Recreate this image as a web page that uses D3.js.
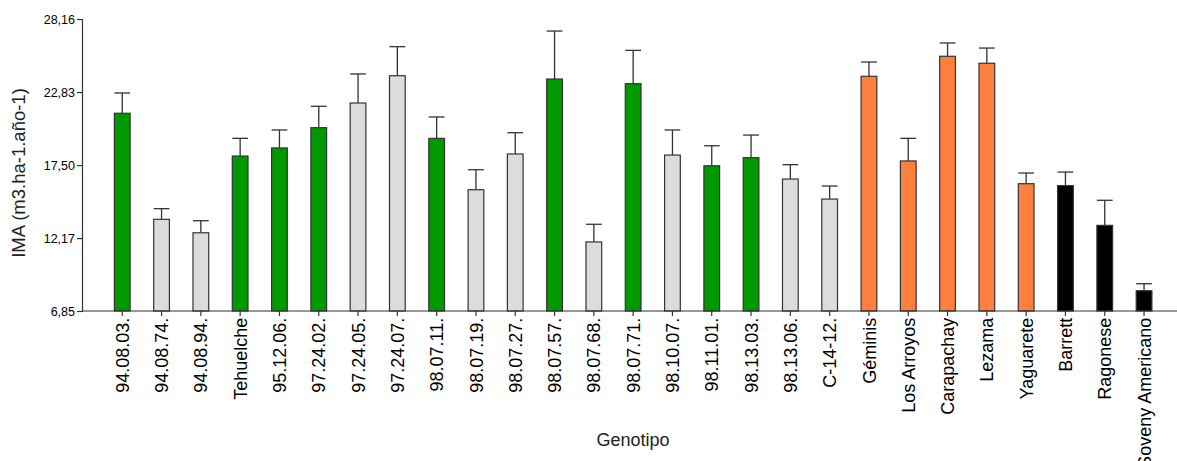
<!DOCTYPE html>
<html>
<head>
<meta charset="utf-8">
<script src="https://cdn.jsdelivr.net/npm/d3@7"></script>
<style>
  body { margin: 0; background: #fff; }
  svg { display: block; font-family: "Liberation Sans", Arial, sans-serif; }
  .axis text { fill: #000; }
  .axis path, .axis line { stroke: #333; stroke-width: 1.2; }
</style>
</head>
<body>
<div id="chart"></div>
<script>

// genotypes, in the order shown
var genotipos = ["94.08.03.", "94.08.74.", "94.08.94.", "Tehuelche", "95.12.06.", "97.24.02.",
  "97.24.05.", "97.24.07.", "98.07.11.", "98.07.19.", "98.07.27.", "98.07.57.", "98.07.68.",
  "98.07.71.", "98.10.07.", "98.11.01.", "98.13.03.", "98.13.06.", "C-14-12.", "Géminis",
  "Los Arroyos", "Carapachay", "Lezama", "Yaguarete", "Barrett", "Ragonese", "Soveny Americano"];

// mean IMA
var ima = [21.28, 13.54, 12.56, 18.16, 18.75, 20.23, 22.03, 24.02, 19.45, 15.70, 18.31, 23.78, 11.89,
  23.44, 18.23, 17.45, 18.04, 16.48, 15.02, 23.98, 17.80, 25.44, 24.93, 16.14, 16.00, 13.10, 8.33];

// upper error (amount above the mean)
var error = [1.48, 0.78, 0.88, 1.29, 1.31, 1.56, 2.12, 2.12, 1.56, 1.46, 1.55, 3.50, 1.29,
  2.43, 1.83, 1.46, 1.65, 1.05, 0.95, 1.04, 1.65, 0.97, 1.11, 0.78, 0.99, 1.83, 0.51];

// group of each genotype (colour)
var grupo = ["v", "g", "g", "v", "v", "v", "g", "g", "v", "g", "g", "v", "g",
  "v", "g", "v", "v", "g", "g", "o", "o", "o", "o", "o", "n", "n", "n"];

var yTicks = [6.85, 12.17, 17.50, 22.83, 28.16];

var color = { v: "#009900", g: "#dcdcdc", o: "#ff7f3f", n: "#000000" };

var width = 1177, height = 461,
    margin = {top: 19, right: 0, bottom: 150, left: 82},
    plotBottom = height - margin.bottom;

var data = genotipos.map(function(g, i) {
  return {name: g, value: ima[i], err: error[i], grupo: grupo[i]};
});

var x = d3.scaleBand()
    .domain(genotipos)
    .range([margin.left + 20.6, width - 13.3]);

var y = d3.scaleLinear()
    .domain([yTicks[0], yTicks[yTicks.length - 1]])
    .range([plotBottom, margin.top]);

var bw = x.bandwidth() * 0.4;

var svg = d3.select("#chart").append("svg")
    .attr("width", width)
    .attr("height", height);

// bars
var bars = svg.append("g").selectAll("g")
    .data(data)
  .enter().append("g");

bars.append("line")
    .attr("x1", function(d) { return x(d.name) + x.bandwidth() / 2; })
    .attr("x2", function(d) { return x(d.name) + x.bandwidth() / 2; })
    .attr("y1", function(d) { return y(d.value); })
    .attr("y2", function(d) { return y(d.value + d.err); })
    .attr("stroke", "#333")
    .attr("stroke-width", 1.3);

bars.append("line")
    .attr("x1", function(d) { return x(d.name) + (x.bandwidth() - bw) / 2; })
    .attr("x2", function(d) { return x(d.name) + (x.bandwidth() + bw) / 2; })
    .attr("y1", function(d) { return y(d.value + d.err); })
    .attr("y2", function(d) { return y(d.value + d.err); })
    .attr("stroke", "#333")
    .attr("stroke-width", 1.3);

bars.append("rect")
    .attr("x", function(d) { return x(d.name) + (x.bandwidth() - bw) / 2; })
    .attr("y", function(d) { return y(d.value); })
    .attr("width", bw)
    .attr("height", function(d) { return plotBottom - y(d.value); })
    .attr("fill", function(d) { return color[d.grupo]; })
    .attr("stroke", "#333")
    .attr("stroke-width", 1.2);

// y axis
var yAxis = d3.axisLeft(y)
    .tickValues(yTicks)
    .tickSizeOuter(0)
    .tickSize(5)
    .tickPadding(2)
    .tickFormat(function(d) { return d.toFixed(2).replace(".", ","); });

svg.append("g")
    .attr("class", "y axis")
    .attr("transform", "translate(" + margin.left + ",0)")
    .call(yAxis)
    .selectAll("text")
    .style("font-size", "12.5px");

// x axis
var xAxis = d3.axisBottom(x).tickSize(5).tickSizeOuter(0);

var gx = svg.append("g")
    .attr("class", "x axis")
    .attr("transform", "translate(0," + plotBottom + ")")
    .call(xAxis);

gx.select(".domain")
    .attr("d", "M" + margin.left + ",0H" + width);

gx.selectAll("text")
    .attr("transform", "rotate(-90) scale(1.03,1.08)")
    .attr("x", -6.5)
    .attr("y", 0)
    .attr("dy", "0.35em")
    .style("text-anchor", "end")
    .style("font-size", "17.5px");

// axis titles
svg.append("text")
    .attr("transform", "translate(25," + ((margin.top + plotBottom) / 2 + 8) + ") rotate(-90)")
    .style("text-anchor", "middle")
    .style("font-size", "18.5px")
    .style("fill", "#222")
    .text("IMA (m3.ha-1.año-1)");

svg.append("text")
    .attr("x", 633)
    .attr("y", 446)
    .style("text-anchor", "middle")
    .style("font-size", "18px")
    .style("fill", "#222")
    .text("Genotipo");

</script>
</body>
</html>
